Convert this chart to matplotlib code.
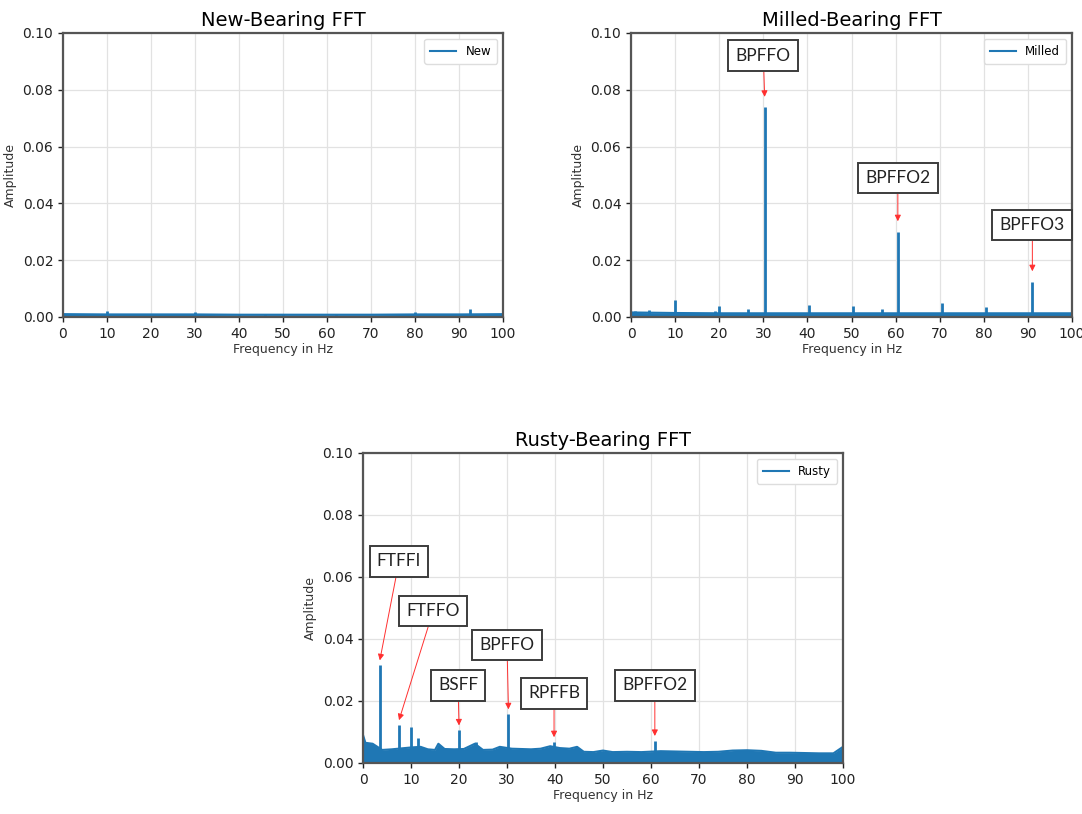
"""Bearing FFT comparison: new, milled and rusty bearings with fault-frequency callouts."""
import matplotlib
matplotlib.use('Agg')
import matplotlib.pyplot as plt

BLUE = '#1f77b4'
SPINE = '#555555'
ARROW = '#ff2f2f'

# ---- new bearing: flat noise floor plus a few tiny lines ----
new_floor_f = [0, 10, 20, 30, 40, 50, 60, 70, 80, 90, 100]
new_floor_a = [0.0010, 0.0009, 0.0009, 0.0009, 0.0008, 0.0008, 0.0008, 0.0008, 0.0009, 0.0009, 0.0010]
new_peak_f = [10, 30, 40, 46, 50, 62, 80, 92.5, 100]
new_peak_a = [0.0022, 0.0017, 0.0012, 0.0012, 0.0012, 0.0012, 0.0019, 0.0028, 0.0052]

# ---- milled bearing: strong outer-race harmonics ----
milled_floor_f = [0, 10, 20, 30, 40, 50, 60, 70, 80, 90, 100]
milled_floor_a = [0.0016, 0.0014, 0.0013, 0.0013, 0.0013, 0.0013, 0.0013, 0.0013, 0.0013, 0.0013, 0.0013]
milled_peak_f = [1.0, 4.0, 10.0, 19.0, 20.0, 26.5, 30.3, 40.3, 50.3, 56.8, 60.5, 70.6, 80.5, 91.0, 100.0]
milled_peak_a = [0.0020, 0.0025, 0.0058, 0.0020, 0.0040, 0.0028, 0.0738, 0.0043, 0.0040, 0.0027,
                 0.0300, 0.0048, 0.0035, 0.0124, 0.0060]

# ---- rusty bearing: raised, ragged floor with many small lines ----
rusty_floor_f = [0, 0.5, 2, 4, 6, 8, 10, 12, 13.5, 15,
                 15.7, 17, 19, 21, 23.3, 25, 27, 28.5, 31, 33,
                 35, 37, 39, 41, 43, 44.6, 46, 48, 50, 52,
                 55, 58, 62, 65, 68, 71, 74, 77, 80, 83,
                 86, 89, 92, 95, 98, 100]
rusty_floor_a = [0.0090, 0.0065, 0.0062, 0.0042, 0.0044, 0.0047, 0.0050, 0.0052, 0.0044, 0.0042,
                 0.0062, 0.0045, 0.0044, 0.0045, 0.0062, 0.0042, 0.0043, 0.0052, 0.0046, 0.0045,
                 0.0044, 0.0046, 0.0054, 0.0048, 0.0046, 0.0052, 0.0036, 0.0035, 0.0040, 0.0035,
                 0.0036, 0.0035, 0.0038, 0.0037, 0.0036, 0.0035, 0.0036, 0.0040, 0.0041, 0.0039,
                 0.0033, 0.0033, 0.0032, 0.0031, 0.0031, 0.0052]
rusty_peak_f = [3.5, 7.5, 10.0, 11.5, 20.0, 23.5, 30.3, 39.8, 60.8]
rusty_peak_a = [0.0316, 0.0123, 0.0116, 0.0080, 0.0106, 0.0068, 0.0158, 0.0068, 0.0072]

# callouts: label, index into the peak list, box centre (x, y)
milled_notes = [('BPFFO', 6, 30.0, 0.092), ('BPFFO2', 10, 60.5, 0.049), ('BPFFO3', 13, 91.0, 0.0324)]
rusty_notes = [('FTFFI', 0, 7.5, 0.065), ('FTFFO', 1, 14.6, 0.049), ('BSFF', 4, 19.8, 0.025),
               ('BPFFO', 6, 30.0, 0.038), ('RPFFB', 7, 39.8, 0.0225), ('BPFFO2', 8, 60.8, 0.025)]


def spectrum(ax, title, label, floor_f, floor_a, peak_f, peak_a):
    ax.fill_between(floor_f, 0, floor_a, color=BLUE, lw=0, zorder=2)
    ax.plot(floor_f, floor_a, color=BLUE, lw=1.5, label=label, zorder=2)
    ax.vlines(peak_f, 0, peak_a, color=BLUE, lw=2.0, zorder=2)
    ax.set_xlim(0, 100)
    ax.set_ylim(0, 0.1)
    ax.set_xticks(range(0, 101, 10))
    ax.set_yticks([0, 0.02, 0.04, 0.06, 0.08, 0.10])
    ax.set_yticklabels(['0.00', '0.02', '0.04', '0.06', '0.08', '0.10'])
    ax.grid(True, color='#e2e2e2', lw=0.9, zorder=0)
    ax.set_axisbelow(True)
    for s in ax.spines.values():
        s.set_color(SPINE)
        s.set_linewidth(1.6)
    ax.tick_params(labelsize=10, length=3.5, width=1, colors='#222222')
    ax.set_xlabel('Frequency in Hz', fontsize=9, color='#333333', labelpad=2)
    ax.set_ylabel('Amplitude', fontsize=9, color='#333333', labelpad=4)
    ax.set_title(title, fontsize=14, pad=5)
    leg = ax.legend(loc='upper right', fontsize=8.5, handlelength=2.2, borderpad=0.5,
                    fancybox=True, framealpha=1)
    leg.get_frame().set_edgecolor('#dddddd')


def callouts(ax, notes, peak_f, peak_a, gap):
    for text, i, bx, by in notes:
        ax.annotate(text, xy=(peak_f[i], peak_a[i] + gap), xytext=(bx, by),
                    ha='center', va='center', fontsize=12.5, family=['Lato', 'DejaVu Sans'],
                    color='#222222', zorder=5,
                    bbox=dict(boxstyle='square,pad=0.42', fc='white', ec='#3c3c3c', lw=1.4),
                    arrowprops=dict(arrowstyle='-|>', color=ARROW, lw=0.7,
                                    mutation_scale=9, shrinkA=0, shrinkB=0))


def main():
    fig = plt.figure(figsize=(10.82, 8.14), dpi=100)
    ax_new = fig.add_axes([0.0582, 0.6106, 0.4067, 0.3489])
    ax_mil = fig.add_axes([0.5832, 0.6106, 0.4076, 0.3489])
    ax_rus = fig.add_axes([0.3355, 0.0627, 0.4436, 0.3808])

    spectrum(ax_new, 'New-Bearing FFT', 'New', new_floor_f, new_floor_a, new_peak_f, new_peak_a)
    spectrum(ax_mil, 'Milled-Bearing FFT', 'Milled', milled_floor_f, milled_floor_a,
             milled_peak_f, milled_peak_a)
    spectrum(ax_rus, 'Rusty-Bearing FFT', 'Rusty', rusty_floor_f, rusty_floor_a,
             rusty_peak_f, rusty_peak_a)

    callouts(ax_mil, milled_notes, milled_peak_f, milled_peak_a, 0.0037)
    callouts(ax_rus, rusty_notes, rusty_peak_f, rusty_peak_a, 0.0015)

    fig.savefig('out.png', dpi=100)


if __name__ == '__main__':
    main()
